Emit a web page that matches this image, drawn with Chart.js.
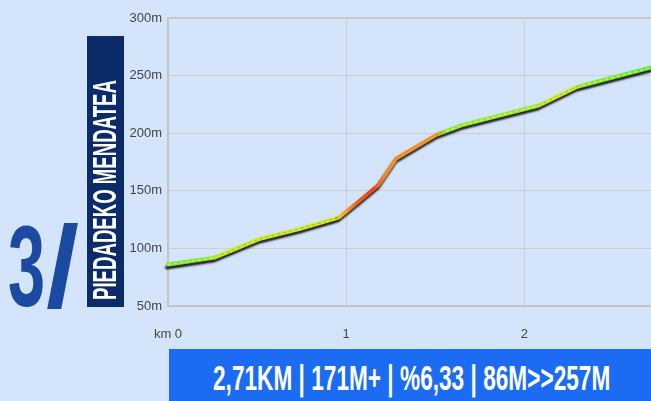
<!DOCTYPE html>
<html><head><meta charset="utf-8">
<script src="https://cdn.jsdelivr.net/npm/chart.js@4/dist/chart.umd.min.js"></script>
<style>
html,body{margin:0;padding:0;background:#d4e5fb;width:651px;height:401px;overflow:hidden;}
#wrap{position:relative;width:651px;height:401px;}
canvas{position:absolute;left:0;top:0;}
.t{position:absolute;white-space:nowrap;line-height:1;font-family:"Liberation Sans",Arial,sans-serif;font-weight:bold;transform-origin:0 0;}
#navy{position:absolute;left:87px;top:36px;width:37px;height:271px;background:#0b2b69;overflow:hidden;}
#bar{position:absolute;left:169px;top:349px;width:482px;height:52px;background:#1b6cf2;}
</style></head>
<body><div id="wrap">
<canvas id="c" width="651" height="401"></canvas>
<div id="navy"></div>
<div id="bar"></div>
<span class="t" id="stage1" style="color:#1c4aa0"></span>
<span class="t" id="stage2" style="color:#1c4aa0"></span>
<span class="t" id="title" style="color:#fff"></span>
<span class="t" id="summary" style="color:#fff"></span>
</div>
<script>
// ---- data ----
const distanceKm = [0, 0.26, 0.51, 0.74, 0.96, 1.08, 1.18, 1.28, 1.51, 1.65, 2.08, 2.29, 2.71];
const elevationM = [86, 92, 108, 117, 127, 142, 155, 178, 199, 207, 224, 240, 257];
const xTickLabels = {0: 'km 0', 1: '1', 2: '2'};
const yTickSuffix = 'm';
const stageLabel = '3/';
const titleText = 'PIEDADEKO MENDATEA';
const summaryText = '2,71KM | 171M+ | %6,33 | 86M>>257M';

// ---- texts (real text, fitted to reference boxes) ----
function placeCap(el, text, capLeft, capTop, capW, capH, rotate) {
  el.textContent = text;
  const fs = capH / 0.729;
  el.style.fontSize = fs + 'px';
  const w = el.offsetWidth;
  const sx = capW / w;
  const off = 0.1175 * fs;
  if (!rotate) {
    el.style.left = capLeft + 'px';
    el.style.top = (capTop - off) + 'px';
    el.style.transform = 'scaleX(' + sx + ')';
  } else {
    el.style.left = (capLeft - off) + 'px';
    el.style.top = capTop + 'px';
    el.style.transform = 'rotate(-90deg) scaleX(' + sx + ')';
  }
}
placeCap(document.getElementById('stage1'), stageLabel.charAt(0), 8, 223, 37, 84, false);
placeCap(document.getElementById('stage2'), stageLabel.slice(1), 46, 223, 33, 84, false);
placeCap(document.getElementById('title'), titleText, 93, 300, 220, 24, true);
placeCap(document.getElementById('summary'), summaryText, 213, 365, 397, 25, false);

// ---- chart ----
const colorStops = [
  [0.00, '#74e83c'], [0.22, '#80e83a'], [0.30, '#d6e62e'], [0.93, '#e2e22a'],
  [1.00, '#f0a02a'], [1.07, '#ea5a1e'], [1.15, '#e8461c'], [1.22, '#f08c28'],
  [1.50, '#f0962a'], [1.56, '#8ae83a'], [2.06, '#98e83a'], [2.12, '#e2e62a'],
  [2.27, '#d8e62e'], [2.34, '#82e83a'], [2.71, '#5cee42']
];
const dashStops = [
  [0.00, '#d8f046'], [0.25, '#d8f046'], [0.30, '#78e23c'], [0.93, '#78e23c'],
  [0.97, 'rgba(0,0,0,0)'], [1.50, 'rgba(0,0,0,0)'], [1.55, '#d8f046'],
  [2.06, '#d8f046'], [2.10, '#78e23c'], [2.30, '#78e23c'], [2.34, '#d8f046'], [2.71, '#d8f046']
];
function grad(stops) {
  return (ctx) => {
    const chart = ctx.chart;
    if (!chart.chartArea) return '#80e83a';
    const xs = chart.scales.x;
    const x0 = xs.getPixelForValue(xs.min), x1 = xs.getPixelForValue(xs.max);
    const g = chart.ctx.createLinearGradient(x0, 0, x1, 0);
    stops.forEach(([km, c]) => g.addColorStop(Math.min(1, Math.max(0, (km - xs.min) / (xs.max - xs.min))), c));
    return g;
  };
}
const shadowPlugin = {
  id: 'shadow',
  beforeDatasetDraw(chart, args) {
    if (args.index === 0) {
      const c = chart.ctx; c.save();
      c.shadowColor = 'rgba(10,10,10,0.9)'; c.shadowBlur = 2; c.shadowOffsetX = -1; c.shadowOffsetY = 3;
    }
  },
  afterDatasetDraw(chart, args) { if (args.index === 0) chart.ctx.restore(); }
};
const pts = distanceKm.map((d, i) => ({x: d, y: elevationM[i]}));
new Chart(document.getElementById('c'), {
  type: 'line',
  data: {
    datasets: [
      {data: pts, borderColor: grad(colorStops), borderWidth: 4, pointRadius: 0, tension: 0, order: 1, borderCapStyle: 'round', borderJoinStyle: 'round', clip: false},
      {data: pts, borderColor: grad(dashStops), borderWidth: 1.5, borderDash: [3, 3], pointRadius: 0, tension: 0, order: 0, clip: false}
    ]
  },
  plugins: [shadowPlugin],
  options: {
    responsive: false, animation: false, devicePixelRatio: 1,
    layout: {padding: {top: 18, right: 0, left: 0, bottom: 0}},
    plugins: {legend: {display: false}, tooltip: {enabled: false}},
    scales: {
      x: {
        type: 'linear', min: 0, max: 2.71,
        afterFit: (s) => { s.height = 95; },
        border: {display: true, color: '#c4c4c4', width: 2},
        grid: {color: '#d3ccc6', lineWidth: 1, drawTicks: false},
        ticks: {stepSize: 1, includeBounds: false, padding: 21, color: '#444',
          font: {family: '"Liberation Sans Narrow","Liberation Sans",Arial', size: 13},
          callback: (v) => xTickLabels[v] !== undefined ? xTickLabels[v] : ''}
      },
      y: {
        min: 50, max: 300,
        afterFit: (s) => { s.width = 168; },
        border: {display: true, color: '#c4c4c4', width: 2},
        grid: {drawTicks: false,
          color: (c) => c.tick && c.tick.value === 300 ? '#c8c8c8' : '#d3ccc6',
          lineWidth: (c) => c.tick && c.tick.value === 300 ? 2 : 1},
        ticks: {stepSize: 50, padding: 6, color: '#444',
          font: {family: '"Liberation Sans Narrow","Liberation Sans",Arial', size: 13},
          callback: (v) => v + yTickSuffix}
      }
    }
  }
});
</script>
</body></html>
